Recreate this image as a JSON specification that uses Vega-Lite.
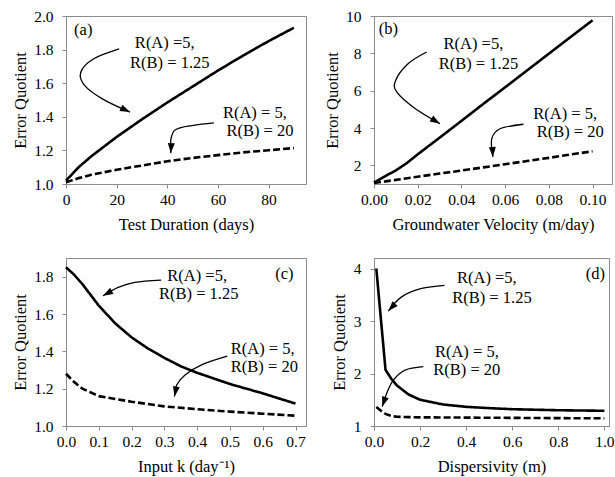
{
  "$schema": "https://vega.github.io/schema/vega-lite/v6.json",
  "padding": {"left": 11, "top": 8, "right": 2, "bottom": 2},
  "config": {
    "font": "Liberation Serif",
    "view": {"stroke": "#8c8c8c", "strokeWidth": 1},
    "axis": {"grid": false, "domainColor": "#8c8c8c", "tickColor": "#8c8c8c", "tickSize": 4, "labelFontSize": 15.5, "titleFontSize": 16.5, "titleFontWeight": "normal", "labelColor": "#000", "titleColor": "#000", "labelFont": "Liberation Serif", "titleFont": "Liberation Serif", "labelFlush": false, "labelOverlap": false},
    "axisX": {"labelPadding": 4, "titlePadding": 9},
    "axisY": {"labelPadding": 9, "titlePadding": 5.5},
    "text": {"fontSize": 16.5, "font": "Liberation Serif", "color": "#000"}
  },
  "datasets": {
    "curves_a": [
      {"x": 0, "y": 1.02, "series": "R(B) = 1.25"}, {"x": 5, "y": 1.10, "series": "R(B) = 1.25"}, {"x": 10, "y": 1.165, "series": "R(B) = 1.25"}, {"x": 20, "y": 1.28, "series": "R(B) = 1.25"}, {"x": 30, "y": 1.385, "series": "R(B) = 1.25"}, {"x": 40, "y": 1.485, "series": "R(B) = 1.25"}, {"x": 50, "y": 1.58, "series": "R(B) = 1.25"}, {"x": 60, "y": 1.675, "series": "R(B) = 1.25"}, {"x": 70, "y": 1.765, "series": "R(B) = 1.25"}, {"x": 80, "y": 1.85, "series": "R(B) = 1.25"}, {"x": 90, "y": 1.93, "series": "R(B) = 1.25"},
      {"x": 0, "y": 1.01, "series": "R(B) = 20"}, {"x": 5, "y": 1.035, "series": "R(B) = 20"}, {"x": 10, "y": 1.055, "series": "R(B) = 20"}, {"x": 20, "y": 1.085, "series": "R(B) = 20"}, {"x": 30, "y": 1.11, "series": "R(B) = 20"}, {"x": 40, "y": 1.135, "series": "R(B) = 20"}, {"x": 50, "y": 1.155, "series": "R(B) = 20"}, {"x": 60, "y": 1.172, "series": "R(B) = 20"}, {"x": 70, "y": 1.188, "series": "R(B) = 20"}, {"x": 80, "y": 1.201, "series": "R(B) = 20"}, {"x": 90, "y": 1.214, "series": "R(B) = 20"}
    ],
    "arrows_a": [
      {"arrow": 1, "i": 1, "x": 21, "y": 1.804}, {"arrow": 1, "i": 2, "x": 10.8, "y": 1.744}, {"arrow": 1, "i": 3, "x": 5.8, "y": 1.664}, {"arrow": 1, "i": 4, "x": 7.5, "y": 1.584}, {"arrow": 1, "i": 5, "x": 14.7, "y": 1.504}, {"arrow": 1, "i": 6, "x": 25.3, "y": 1.428},
      {"arrow": 2, "i": 1, "x": 58.4, "y": 1.364}, {"arrow": 2, "i": 2, "x": 45, "y": 1.334}, {"arrow": 2, "i": 3, "x": 41.7, "y": 1.284}, {"arrow": 2, "i": 4, "x": 41.4, "y": 1.184}
    ],
    "heads_a": [{"arrow": 1, "x": 25.3, "y": 1.428}, {"arrow": 2, "x": 41.4, "y": 1.184}],
    "labels_a": [
      {"x": 6.8, "y": 1.914, "label": "(a)"},
      {"x": 39, "y": 1.84, "label": "R(A) =5,"}, {"x": 41, "y": 1.72, "label": "R(B) = 1.25"},
      {"x": 74.6, "y": 1.424, "label": "R(A) = 5,"}, {"x": 76.6, "y": 1.314, "label": "R(B) = 20"}
    ],
    "curves_b": [
      {"x": 0, "y": 1.08, "series": "R(B) = 1.25"}, {"x": 0.005, "y": 1.41, "series": "R(B) = 1.25"}, {"x": 0.01, "y": 1.73, "series": "R(B) = 1.25"}, {"x": 0.015, "y": 2.12, "series": "R(B) = 1.25"}, {"x": 0.02, "y": 2.59, "series": "R(B) = 1.25"}, {"x": 0.03, "y": 3.48, "series": "R(B) = 1.25"}, {"x": 0.04, "y": 4.38, "series": "R(B) = 1.25"}, {"x": 0.05, "y": 5.29, "series": "R(B) = 1.25"}, {"x": 0.06, "y": 6.18, "series": "R(B) = 1.25"}, {"x": 0.07, "y": 7.08, "series": "R(B) = 1.25"}, {"x": 0.08, "y": 7.98, "series": "R(B) = 1.25"}, {"x": 0.09, "y": 8.88, "series": "R(B) = 1.25"}, {"x": 0.1, "y": 9.77, "series": "R(B) = 1.25"},
      {"x": 0, "y": 1.05, "series": "R(B) = 20"}, {"x": 0.01, "y": 1.22, "series": "R(B) = 20"}, {"x": 0.02, "y": 1.39, "series": "R(B) = 20"}, {"x": 0.03, "y": 1.56, "series": "R(B) = 20"}, {"x": 0.04, "y": 1.72, "series": "R(B) = 20"}, {"x": 0.05, "y": 1.89, "series": "R(B) = 20"}, {"x": 0.06, "y": 2.06, "series": "R(B) = 20"}, {"x": 0.07, "y": 2.23, "series": "R(B) = 20"}, {"x": 0.08, "y": 2.4, "series": "R(B) = 20"}, {"x": 0.09, "y": 2.58, "series": "R(B) = 20"}, {"x": 0.1, "y": 2.75, "series": "R(B) = 20"}
    ],
    "arrows_b": [
      {"arrow": 1, "i": 1, "x": 0.0241, "y": 8.07}, {"arrow": 1, "i": 2, "x": 0.0157, "y": 7.45}, {"arrow": 1, "i": 3, "x": 0.0099, "y": 6.55}, {"arrow": 1, "i": 4, "x": 0.0104, "y": 5.93}, {"arrow": 1, "i": 5, "x": 0.0188, "y": 5.04}, {"arrow": 1, "i": 6, "x": 0.0302, "y": 4.23},
      {"arrow": 2, "i": 1, "x": 0.0684, "y": 4.2}, {"arrow": 2, "i": 2, "x": 0.0577, "y": 3.96}, {"arrow": 2, "i": 3, "x": 0.0539, "y": 3.43}, {"arrow": 2, "i": 4, "x": 0.0544, "y": 2.45}
    ],
    "heads_b": [{"arrow": 1, "x": 0.0302, "y": 4.23}, {"arrow": 2, "x": 0.0544, "y": 2.45}],
    "labels_b": [
      {"x": 0.0066, "y": 9.32, "label": "(b)"},
      {"x": 0.0455, "y": 8.48, "label": "R(A) =5,"}, {"x": 0.0478, "y": 7.45, "label": "R(B) = 1.25"},
      {"x": 0.0875, "y": 4.77, "label": "R(A) = 5,"}, {"x": 0.0898, "y": 3.79, "label": "R(B) = 20"}
    ],
    "curves_c": [
      {"x": 0, "y": 1.85, "series": "R(B) = 1.25"}, {"x": 0.025, "y": 1.81, "series": "R(B) = 1.25"}, {"x": 0.05, "y": 1.76, "series": "R(B) = 1.25"}, {"x": 0.1, "y": 1.645, "series": "R(B) = 1.25"}, {"x": 0.15, "y": 1.55, "series": "R(B) = 1.25"}, {"x": 0.2, "y": 1.475, "series": "R(B) = 1.25"}, {"x": 0.25, "y": 1.415, "series": "R(B) = 1.25"}, {"x": 0.3, "y": 1.365, "series": "R(B) = 1.25"}, {"x": 0.35, "y": 1.32, "series": "R(B) = 1.25"}, {"x": 0.4, "y": 1.285, "series": "R(B) = 1.25"}, {"x": 0.5, "y": 1.225, "series": "R(B) = 1.25"}, {"x": 0.6, "y": 1.175, "series": "R(B) = 1.25"}, {"x": 0.7, "y": 1.12, "series": "R(B) = 1.25"},
      {"x": 0, "y": 1.28, "series": "R(B) = 20"}, {"x": 0.025, "y": 1.235, "series": "R(B) = 20"}, {"x": 0.05, "y": 1.2, "series": "R(B) = 20"}, {"x": 0.1, "y": 1.16, "series": "R(B) = 20"}, {"x": 0.2, "y": 1.13, "series": "R(B) = 20"}, {"x": 0.3, "y": 1.105, "series": "R(B) = 20"}, {"x": 0.4, "y": 1.09, "series": "R(B) = 20"}, {"x": 0.5, "y": 1.077, "series": "R(B) = 20"}, {"x": 0.6, "y": 1.066, "series": "R(B) = 20"}, {"x": 0.7, "y": 1.055, "series": "R(B) = 20"}
    ],
    "arrows_c": [
      {"arrow": 1, "i": 1, "x": 0.29, "y": 1.782}, {"arrow": 1, "i": 2, "x": 0.21, "y": 1.77}, {"arrow": 1, "i": 3, "x": 0.159, "y": 1.743}, {"arrow": 1, "i": 4, "x": 0.113, "y": 1.698},
      {"arrow": 2, "i": 1, "x": 0.492, "y": 1.374}, {"arrow": 2, "i": 2, "x": 0.415, "y": 1.329}, {"arrow": 2, "i": 3, "x": 0.364, "y": 1.275}, {"arrow": 2, "i": 4, "x": 0.338, "y": 1.221}, {"arrow": 2, "i": 5, "x": 0.331, "y": 1.158}
    ],
    "heads_c": [{"arrow": 1, "x": 0.113, "y": 1.698}, {"arrow": 2, "x": 0.331, "y": 1.158}],
    "labels_c": [
      {"x": 0.666, "y": 1.815, "label": "(c)"},
      {"x": 0.40, "y": 1.806, "label": "R(A) =5,"}, {"x": 0.405, "y": 1.707, "label": "R(B) = 1.25"},
      {"x": 0.6, "y": 1.41, "label": "R(A) = 5,"}, {"x": 0.605, "y": 1.315, "label": "R(B) = 20"}
    ],
    "curves_d": [
      {"x": 0.01, "y": 4.0, "series": "R(B) = 1.25"}, {"x": 0.05, "y": 2.07, "series": "R(B) = 1.25"}, {"x": 0.075, "y": 1.9, "series": "R(B) = 1.25"}, {"x": 0.1, "y": 1.77, "series": "R(B) = 1.25"}, {"x": 0.15, "y": 1.6, "series": "R(B) = 1.25"}, {"x": 0.2, "y": 1.5, "series": "R(B) = 1.25"}, {"x": 0.3, "y": 1.41, "series": "R(B) = 1.25"}, {"x": 0.4, "y": 1.365, "series": "R(B) = 1.25"}, {"x": 0.5, "y": 1.34, "series": "R(B) = 1.25"}, {"x": 0.6, "y": 1.32, "series": "R(B) = 1.25"}, {"x": 0.8, "y": 1.30, "series": "R(B) = 1.25"}, {"x": 1.0, "y": 1.29, "series": "R(B) = 1.25"},
      {"x": 0.01, "y": 1.36, "series": "R(B) = 20"}, {"x": 0.03, "y": 1.29, "series": "R(B) = 20"}, {"x": 0.05, "y": 1.23, "series": "R(B) = 20"}, {"x": 0.075, "y": 1.19, "series": "R(B) = 20"}, {"x": 0.1, "y": 1.175, "series": "R(B) = 20"}, {"x": 0.2, "y": 1.165, "series": "R(B) = 20"}, {"x": 0.4, "y": 1.16, "series": "R(B) = 20"}, {"x": 0.6, "y": 1.155, "series": "R(B) = 20"}, {"x": 0.8, "y": 1.15, "series": "R(B) = 20"}, {"x": 1.0, "y": 1.146, "series": "R(B) = 20"}
    ],
    "arrows_d": [
      {"arrow": 1, "i": 1, "x": 0.306, "y": 3.68}, {"arrow": 1, "i": 2, "x": 0.207, "y": 3.62}, {"arrow": 1, "i": 3, "x": 0.12, "y": 3.46}, {"arrow": 1, "i": 4, "x": 0.062, "y": 3.19},
      {"arrow": 2, "i": 1, "x": 0.214, "y": 2.13}, {"arrow": 2, "i": 2, "x": 0.135, "y": 2.065}, {"arrow": 2, "i": 3, "x": 0.084, "y": 1.875}, {"arrow": 2, "i": 4, "x": 0.055, "y": 1.62}, {"arrow": 2, "i": 5, "x": 0.036, "y": 1.37}
    ],
    "heads_d": [{"arrow": 1, "x": 0.062, "y": 3.19}, {"arrow": 2, "x": 0.036, "y": 1.37}],
    "labels_d": [
      {"x": 0.961, "y": 3.90, "label": "(d)"},
      {"x": 0.49, "y": 3.81, "label": "R(A) =5,"}, {"x": 0.512, "y": 3.43, "label": "R(B) = 1.25"},
      {"x": 0.403, "y": 2.41, "label": "R(A) = 5,"}, {"x": 0.403, "y": 2.065, "label": "R(B) = 20"}
    ]
  },
  "columns": 2,
  "bounds": "flush",
  "spacing": {"row": 74, "column": 68},
  "concat": [
    {
      "width": 240, "height": 168,
      "encoding": {
        "x": {"field": "x", "type": "quantitative", "scale": {"domain": [0, 94.8], "nice": false, "zero": false}, "axis": {"title": "Test Duration (days)", "values": [0, 20, 40, 60, 80], "format": "d"}},
        "y": {"field": "y", "type": "quantitative", "scale": {"domain": [1, 2], "nice": false, "zero": false}, "axis": {"title": "Error Quotient", "values": [1, 1.2, 1.4, 1.6, 1.8, 2], "format": ".1f"}}
      },
      "layer": [
        {"data": {"name": "curves_a"}, "mark": {"type": "line", "color": "#000", "strokeWidth": 2.6}, "encoding": {"strokeDash": {"field": "series", "type": "nominal", "scale": {"domain": ["R(B) = 1.25", "R(B) = 20"], "range": [[1, 0], [7, 3]]}, "legend": null}}},
        {"data": {"name": "arrows_a"}, "mark": {"type": "line", "color": "#000", "strokeWidth": 1.3, "interpolate": "cardinal"}, "encoding": {"detail": {"field": "arrow", "type": "nominal"}, "order": {"field": "i", "type": "quantitative"}}},
        {"data": {"name": "heads_a"}, "transform": [{"filter": "datum.arrow == 1"}], "mark": {"type": "point", "filled": true, "color": "#000", "opacity": 1, "shape": "M0,0L0.7,2L-0.7,2Z", "size": 100, "angle": 115}},
        {"data": {"name": "heads_a"}, "transform": [{"filter": "datum.arrow == 2"}], "mark": {"type": "point", "filled": true, "color": "#000", "opacity": 1, "shape": "M0,0L0.7,2L-0.7,2Z", "size": 100, "angle": 183}},
        {"data": {"name": "labels_a"}, "mark": {"type": "text", "align": "center", "baseline": "middle"}, "encoding": {"text": {"field": "label"}}}
      ]
    },
    {
      "width": 238, "height": 168,
      "encoding": {
        "x": {"field": "x", "type": "quantitative", "scale": {"domain": [0, 0.1089], "nice": false, "zero": false}, "axis": {"title": "Groundwater Velocity (m/day)", "values": [0, 0.02, 0.04, 0.06, 0.08, 0.1], "format": ".2f"}},
        "y": {"field": "y", "type": "quantitative", "scale": {"domain": [1, 10], "nice": false, "zero": false}, "axis": {"title": "Error Quotient", "values": [2, 4, 6, 8, 10], "format": "d"}}
      },
      "layer": [
        {"data": {"name": "curves_b"}, "mark": {"type": "line", "color": "#000", "strokeWidth": 2.6}, "encoding": {"strokeDash": {"field": "series", "type": "nominal", "scale": {"domain": ["R(B) = 1.25", "R(B) = 20"], "range": [[1, 0], [7, 3]]}, "legend": null}}},
        {"data": {"name": "arrows_b"}, "mark": {"type": "line", "color": "#000", "strokeWidth": 1.3, "interpolate": "cardinal"}, "encoding": {"detail": {"field": "arrow", "type": "nominal"}, "order": {"field": "i", "type": "quantitative"}}},
        {"data": {"name": "heads_b"}, "transform": [{"filter": "datum.arrow == 1"}], "mark": {"type": "point", "filled": true, "color": "#000", "opacity": 1, "shape": "M0,0L0.7,2L-0.7,2Z", "size": 100, "angle": 121}},
        {"data": {"name": "heads_b"}, "transform": [{"filter": "datum.arrow == 2"}], "mark": {"type": "point", "filled": true, "color": "#000", "opacity": 1, "shape": "M0,0L0.7,2L-0.7,2Z", "size": 100, "angle": 177}},
        {"data": {"name": "labels_b"}, "mark": {"type": "text", "align": "center", "baseline": "middle"}, "encoding": {"text": {"field": "label"}}}
      ]
    },
    {
      "width": 240, "height": 168,
      "encoding": {
        "x": {"field": "x", "type": "quantitative", "scale": {"domain": [0, 0.732], "nice": false, "zero": false}, "axis": {"title": "Input k (day⁻¹)", "values": [0, 0.1, 0.2, 0.3, 0.4, 0.5, 0.6, 0.7], "format": ".1f"}},
        "y": {"field": "y", "type": "quantitative", "scale": {"domain": [1, 1.9], "nice": false, "zero": false}, "axis": {"title": "Error Quotient", "values": [1, 1.2, 1.4, 1.6, 1.8], "format": ".1f"}}
      },
      "layer": [
        {"data": {"name": "curves_c"}, "mark": {"type": "line", "color": "#000", "strokeWidth": 2.6}, "encoding": {"strokeDash": {"field": "series", "type": "nominal", "scale": {"domain": ["R(B) = 1.25", "R(B) = 20"], "range": [[1, 0], [7, 3]]}, "legend": null}}},
        {"data": {"name": "arrows_c"}, "mark": {"type": "line", "color": "#000", "strokeWidth": 1.3, "interpolate": "cardinal"}, "encoding": {"detail": {"field": "arrow", "type": "nominal"}, "order": {"field": "i", "type": "quantitative"}}},
        {"data": {"name": "heads_c"}, "transform": [{"filter": "datum.arrow == 1"}], "mark": {"type": "point", "filled": true, "color": "#000", "opacity": 1, "shape": "M0,0L0.7,2L-0.7,2Z", "size": 100, "angle": 241}},
        {"data": {"name": "heads_c"}, "transform": [{"filter": "datum.arrow == 2"}], "mark": {"type": "point", "filled": true, "color": "#000", "opacity": 1, "shape": "M0,0L0.7,2L-0.7,2Z", "size": 100, "angle": 191}},
        {"data": {"name": "labels_c"}, "mark": {"type": "text", "align": "center", "baseline": "middle"}, "encoding": {"text": {"field": "label"}}}
      ]
    },
    {
      "width": 235, "height": 168,
      "encoding": {
        "x": {"field": "x", "type": "quantitative", "scale": {"domain": [0, 1.02], "nice": false, "zero": false}, "axis": {"title": "Dispersivity (m)", "values": [0, 0.2, 0.4, 0.6, 0.8, 1.0], "format": ".1f"}},
        "y": {"field": "y", "type": "quantitative", "scale": {"domain": [1, 4.2], "nice": false, "zero": false}, "axis": {"title": "Error Quotient", "values": [1, 2, 3, 4], "format": "d"}}
      },
      "layer": [
        {"data": {"name": "curves_d"}, "mark": {"type": "line", "color": "#000", "strokeWidth": 2.6}, "encoding": {"strokeDash": {"field": "series", "type": "nominal", "scale": {"domain": ["R(B) = 1.25", "R(B) = 20"], "range": [[1, 0], [7, 3]]}, "legend": null}}},
        {"data": {"name": "arrows_d"}, "mark": {"type": "line", "color": "#000", "strokeWidth": 1.3, "interpolate": "cardinal"}, "encoding": {"detail": {"field": "arrow", "type": "nominal"}, "order": {"field": "i", "type": "quantitative"}}},
        {"data": {"name": "heads_d"}, "transform": [{"filter": "datum.arrow == 1"}], "mark": {"type": "point", "filled": true, "color": "#000", "opacity": 1, "shape": "M0,0L0.7,2L-0.7,2Z", "size": 100, "angle": 223}},
        {"data": {"name": "heads_d"}, "transform": [{"filter": "datum.arrow == 2"}], "mark": {"type": "point", "filled": true, "color": "#000", "opacity": 1, "shape": "M0,0L0.7,2L-0.7,2Z", "size": 100, "angle": 198}},
        {"data": {"name": "labels_d"}, "mark": {"type": "text", "align": "center", "baseline": "middle"}, "encoding": {"text": {"field": "label"}}}
      ]
    }
  ]
}
